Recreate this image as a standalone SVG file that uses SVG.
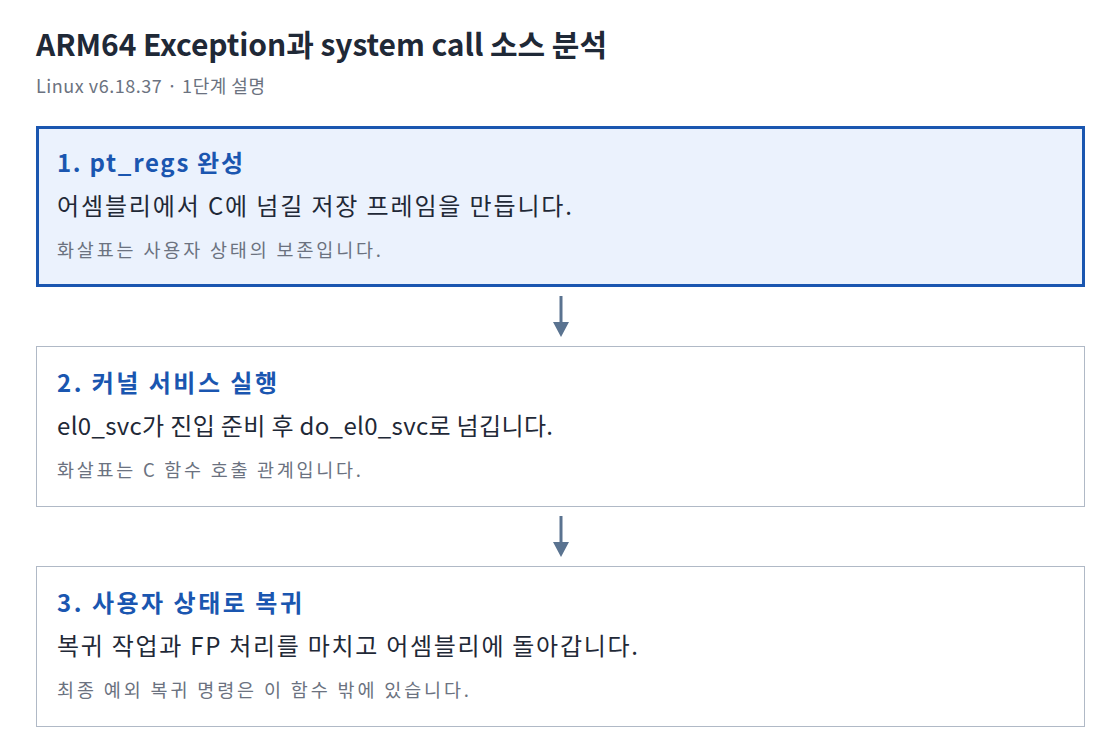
<svg xmlns="http://www.w3.org/2000/svg" width="1120" height="754" viewBox="0 0 1120 754">
<style>
text{font-family:"Noto Sans CJK KR","Noto Sans",sans-serif}
.t{font-size:30px;font-weight:700;fill:#1f2937}
.s{font-size:18px;fill:#6b7280}
.h{font-size:24px;font-weight:700;fill:#1a56b0}
.m{font-size:24px;fill:#1f2937}
.n{font-size:18.5px;fill:#6b7280}
.box{fill:#fff;stroke:#b0b9c6;stroke-width:1}
.hl{fill:#ebf2fd;stroke:#1a56b0;stroke-width:3}
.c{stroke:#5a7390;stroke-width:3;fill:none}
</style>
<rect width="1120" height="754" fill="#fff"/>
<text class="t" x="36" y="56" textLength="571" lengthAdjust="spacing">ARM64 Exception과 system call 소스 분석</text>
<text class="s" x="36" y="93" textLength="229" lengthAdjust="spacing">Linux v6.18.37 · 1단계 설명</text>
<g id="connectors">
<line class="c" x1="561" y1="296" x2="561" y2="322"/>
<polygon points="553,322 569,322 561,337" fill="#5a7390"/>
<line class="c" x1="561" y1="516" x2="561" y2="542"/>
<polygon points="553,542 569,542 561,557" fill="#5a7390"/>
</g>
<g id="node1">
<rect class="hl" x="37.5" y="127.5" width="1046" height="158"/>
<text class="h" x="57" y="172" textLength="186" lengthAdjust="spacing">1. pt_regs 완성</text>
<text class="m" x="57" y="215" textLength="515" lengthAdjust="spacing">어셈블리에서 C에 넘길 저장 프레임을 만듭니다.</text>
<text class="n" x="57" y="257" textLength="324" lengthAdjust="spacing">화살표는 사용자 상태의 보존입니다.</text>
</g>
<g id="node2">
<rect class="box" x="36.5" y="346.5" width="1048" height="160"/>
<text class="h" x="57" y="392" textLength="220" lengthAdjust="spacing">2. 커널 서비스 실행</text>
<text class="m" x="57" y="435" textLength="496" lengthAdjust="spacing">el0_svc가 진입 준비 후 do_el0_svc로 넘깁니다.</text>
<text class="n" x="57" y="477" textLength="304" lengthAdjust="spacing">화살표는 C 함수 호출 관계입니다.</text>
</g>
<g id="node3">
<rect class="box" x="36.5" y="566.5" width="1048" height="160"/>
<text class="h" x="57" y="612" textLength="245" lengthAdjust="spacing">3. 사용자 상태로 복귀</text>
<text class="m" x="57" y="655" textLength="581" lengthAdjust="spacing">복귀 작업과 FP 처리를 마치고 어셈블리에 돌아갑니다.</text>
<text class="n" x="57" y="697" textLength="412" lengthAdjust="spacing">최종 예외 복귀 명령은 이 함수 밖에 있습니다.</text>
</g>
</svg>
